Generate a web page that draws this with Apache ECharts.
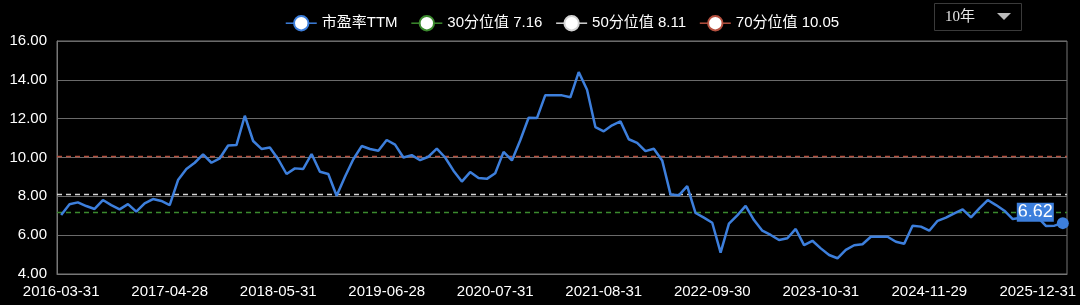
<!DOCTYPE html>
<html>
<head>
<meta charset="utf-8">
<script src="https://cdn.jsdelivr.net/npm/echarts@6/dist/echarts.min.js"></script>
<style>
html,body{margin:0;padding:0;background:#000;}
#c{width:1080px;height:305px;}
</style>
</head>
<body>
<div id="c"></div>
<script>
const categories = [
"2016-03-31","2016-04-29","2016-05-31","2016-06-30","2016-07-29","2016-08-31","2016-09-30","2016-10-31","2016-11-30","2016-12-30",
"2017-01-26","2017-02-28","2017-03-31","2017-04-28","2017-05-31","2017-06-30","2017-07-31","2017-08-31","2017-09-29","2017-10-31","2017-11-30","2017-12-29",
"2018-01-31","2018-02-28","2018-03-30","2018-04-27","2018-05-31","2018-06-29","2018-07-31","2018-08-31","2018-09-28","2018-10-31","2018-11-30","2018-12-28",
"2019-01-31","2019-02-28","2019-03-29","2019-04-30","2019-05-31","2019-06-28","2019-07-31","2019-08-30","2019-09-30","2019-10-31","2019-11-29","2019-12-31",
"2020-01-23","2020-02-28","2020-03-31","2020-04-30","2020-05-29","2020-06-30","2020-07-31","2020-08-31","2020-09-30","2020-10-30","2020-11-30","2020-12-31",
"2021-01-29","2021-02-26","2021-03-31","2021-04-30","2021-05-31","2021-06-30","2021-07-30","2021-08-31","2021-09-30","2021-10-29","2021-11-30","2021-12-31",
"2022-01-28","2022-02-28","2022-03-31","2022-04-29","2022-05-31","2022-06-30","2022-07-29","2022-08-31","2022-09-30","2022-10-31","2022-11-30","2022-12-30",
"2023-01-31","2023-02-28","2023-03-31","2023-04-28","2023-05-31","2023-06-30","2023-07-31","2023-08-31","2023-09-28","2023-10-31","2023-11-30","2023-12-29",
"2024-01-31","2024-02-29","2024-03-29","2024-04-30","2024-05-31","2024-06-28","2024-07-31","2024-08-30","2024-09-30","2024-10-31","2024-11-29","2024-12-31",
"2025-01-27","2025-02-28","2025-03-31","2025-04-30","2025-05-30","2025-06-30","2025-07-31","2025-08-29","2025-09-30","2025-10-31","2025-11-28","2025-12-31",
"2026-01-30","2026-02-27","2026-03-31"
];

const peTTM = [
7.04,7.59,7.69,7.50,7.35,7.81,7.55,7.33,7.60,7.21,
7.64,7.86,7.76,7.55,8.84,9.41,9.73,10.16,9.73,9.96,10.62,10.64,
12.15,10.85,10.44,10.51,9.91,9.15,9.44,9.41,10.18,9.27,9.15,8.03,
9.01,9.91,10.59,10.44,10.35,10.90,10.66,10.00,10.12,9.86,10.04,10.46,
10.00,9.32,8.76,9.25,8.94,8.90,9.19,10.29,9.85,10.89,12.05,12.03,
13.21,13.20,13.20,13.10,14.40,13.49,11.57,11.35,11.66,11.86,10.94,10.75,
10.33,10.45,9.85,8.10,8.05,8.53,7.14,6.90,6.64,5.10,6.59,7.02,
7.51,6.78,6.23,6.01,5.75,5.84,6.32,5.49,5.71,5.32,4.98,4.81,
5.24,5.48,5.53,5.92,5.92,5.92,5.66,5.56,6.49,6.44,6.23,6.74,
6.90,7.12,7.33,6.92,7.38,7.81,7.55,7.26,6.83,6.90,6.90,6.92,
6.47,6.49,6.62
];

const seriesNames = ["市盈率TTM","30分位值 7.16","50分位值 8.11","70分位值 10.05"];
const percentileValues = [7.16, 8.11, 10.05];
const yTicks = [4, 16, 2]; // min, max, interval
const rangeLabel = "10年";

const mainColor = "#3d7fdc";
const pctColors = ["#3b8a2e", "#d4d4d4", "#b5503f"];

const chart = echarts.init(document.getElementById('c'), null, {renderer:'canvas'});
const lastIdx = peTTM.length - 1;

const pctSeries = percentileValues.map((v, k) => ({
  name: seriesNames[k+1],
  type: 'line',
  data: [],
  symbol: 'emptyCircle',
  color: pctColors[k],
  lineStyle: {color: pctColors[k], width: 1.5, type: [5,4]},
  markLine: {
    silent: true,
    symbol: 'none',
    label: {show: false},
    lineStyle: {color: pctColors[k], width: 1.3, type: [5,4]},
    data: [{yAxis: v}]
  }
}));

chart.setOption({
  backgroundColor: '#000',
  animation: false,
  textStyle: {fontFamily: 'Liberation Sans, Arial, "Noto Sans CJK SC", sans-serif'},
  legend: {
    left: 280,
    top: 10,
    itemWidth: 31,
    itemHeight: 18,
    itemGap: 13,
    textStyle: {color: '#fff', fontSize: 15},
    lineStyle: {width: 1.5, type: 'solid'},
    itemStyle: {borderWidth: 2},
    data: seriesNames
  },
  grid: {
    left: 57, top: 41, width: 1010, height: 233,
    show: true, borderColor: '#777', borderWidth: 1, backgroundColor: 'transparent'
  },
  xAxis: {
    type: 'category',
    data: categories,
    boundaryGap: true,
    axisLine: {lineStyle: {color: '#777'}},
    axisTick: {show: false},
    axisLabel: {color: '#fff', fontSize: 15, interval: 12, margin: 10}
  },
  yAxis: {
    type: 'value',
    min: yTicks[0], max: yTicks[1], interval: yTicks[2],
    axisLine: {show: true, lineStyle: {color: '#777'}},
    axisTick: {show: false},
    axisLabel: {color: '#fff', fontSize: 15, margin: 10, formatter: v => v.toFixed(2)},
    splitLine: {lineStyle: {color: '#6a6a6a', width: 1}}
  },
  graphic: [
    {type: 'rect', left: 934, top: 3, shape: {width: 87, height: 27},
     style: {fill: '#000', stroke: '#3a3a3a', lineWidth: 1}},
    {type: 'text', left: 945, top: 10,
     style: {text: rangeLabel, fill: '#e6e6e6', fontSize: 15, fontFamily: 'Liberation Serif, "Noto Sans CJK SC", serif'}},
    {type: 'polygon', shape: {points: [[997,13],[1011,13],[1004,20]]}, style: {fill: '#bbb'}}
  ],
  series: [
    {
      name: seriesNames[0],
      type: 'line',
      data: peTTM,
      symbol: 'emptyCircle',
      showSymbol: false,
      color: mainColor,
      lineStyle: {color: mainColor, width: 2.5},
      z: 5,
      markPoint: {
        symbol: 'circle',
        symbolSize: 12,
        itemStyle: {color: mainColor},
        label: {
          show: true,
          position: 'left',
          distance: 3,
          offset: [0, -11],
          formatter: p => p.value.toFixed(2),
          color: '#fff',
          fontSize: 18,
          backgroundColor: mainColor,
          padding: [1, 1, 0, 1]
        },
        data: [{coord: [categories[lastIdx], peTTM[lastIdx]], value: peTTM[lastIdx]}]
      }
    },
    ...pctSeries
  ]
});
</script>
</body>
</html>
